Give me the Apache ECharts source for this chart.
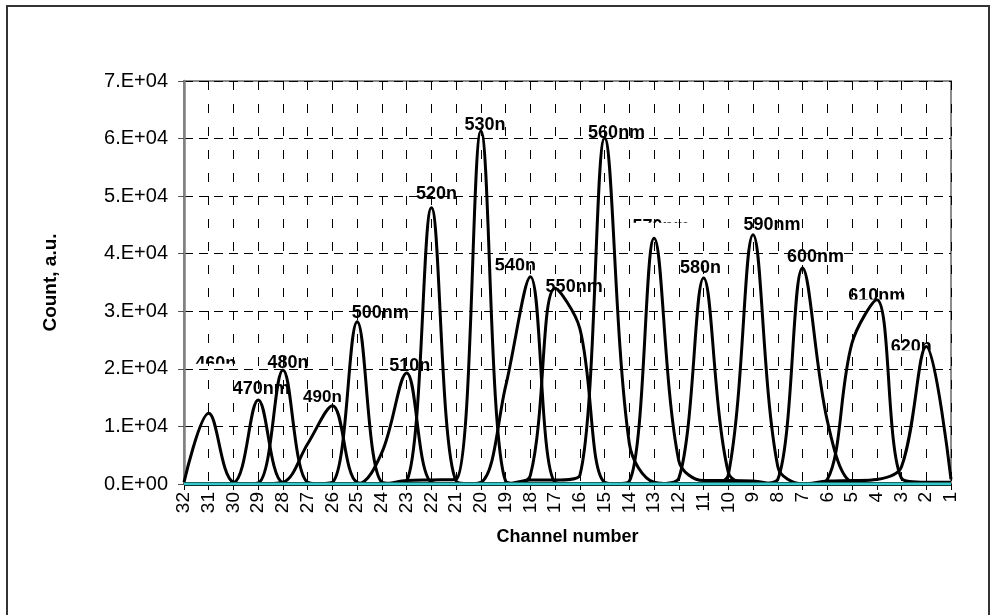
<!DOCTYPE html>
<html>
<head>
<meta charset="utf-8">
<script src="https://cdn.jsdelivr.net/npm/echarts@6/dist/echarts.min.js"></script>
<style>
  html, body { margin: 0; padding: 0; background: #fff; }
  #chart { width: 995px; height: 615px; }
  #frame { position: absolute; left: 6px; top: 5px; width: 984px; height: 640px;
           border: 2px solid #333; box-sizing: border-box; pointer-events: none; }
</style>
</head>
<body>
<div id="chart"></div>
<div id="frame"></div>
<script>
// Detector channels, left to right
const channels = [32, 31, 30, 29, 28, 27, 26, 25, 24, 23, 22, 21, 20, 19, 18, 17,
                  16, 15, 14, 13, 12, 11, 10, 9, 8, 7, 6, 5, 4, 3, 2, 1];

// Counts per channel for each illumination wavelength (same channel order)
const s460 = [300, 12300, 300, 0, 0, 0, 0, 0,  0, 0, 0, 0, 0, 0, 0, 0,  0, 0, 0, 0, 0, 0, 0, 0,  0, 0, 0, 0, 0, 0, 0, 0];
const s470 = [0, 0, 200, 14600, 200, 0, 0, 0,  0, 0, 0, 0, 0, 0, 0, 0,  0, 0, 0, 0, 0, 0, 0, 0,  0, 0, 0, 0, 0, 0, 0, 0];
const s480 = [0, 0, 0, 200, 19800, 300, 0, 0,  0, 0, 0, 0, 0, 0, 0, 0,  0, 0, 0, 0, 0, 0, 0, 0,  0, 0, 0, 0, 0, 0, 0, 0];
const s490 = [0, 0, 0, 0, 300, 7000, 13600, 300,  0, 0, 0, 0, 0, 0, 0, 0,  0, 0, 0, 0, 0, 0, 0, 0,  0, 0, 0, 0, 0, 0, 0, 0];
const s500 = [0, 0, 0, 0, 0, 0, 300, 28200,  300, 0, 0, 0, 0, 0, 0, 0,  0, 0, 0, 0, 0, 0, 0, 0,  0, 0, 0, 0, 0, 0, 0, 0];
const s510 = [0, 0, 0, 0, 0, 0, 0, 0,  5500, 19300, 300, 0, 0, 0, 0, 0,  0, 0, 0, 0, 0, 0, 0, 0,  0, 0, 0, 0, 0, 0, 0, 0];
const s520 = [0, 0, 0, 0, 0, 0, 0, 0,  0, 500, 48000, 500, 0, 0, 0, 0,  0, 0, 0, 0, 0, 0, 0, 0,  0, 0, 0, 0, 0, 0, 0, 0];
const s530 = [0, 0, 0, 0, 0, 0, 0, 0,  0, 600, 700, 800, 61300, 500, 0, 0,  0, 0, 0, 0, 0, 0, 0, 0,  0, 0, 0, 0, 0, 0, 0, 0];
const s540 = [0, 0, 0, 0, 0, 0, 0, 0,  0, 0, 0, 0, 300, 17000, 36000, 300,  0, 0, 0, 0, 0, 0, 0, 0,  0, 0, 0, 0, 0, 0, 0, 0];
const s550 = [0, 0, 0, 0, 0, 0, 0, 0,  0, 0, 0, 0, 0, 0, 1500, 34000,  27000, 300, 0, 0, 0, 0, 0, 0,  0, 0, 0, 0, 0, 0, 0, 0];
const s560 = [0, 0, 0, 0, 0, 0, 0, 0,  0, 0, 0, 0, 0, 0, 700, 700,  1500, 60100, 7000, 300, 0, 0, 0, 0,  0, 0, 0, 0, 0, 0, 0, 0];
const s570 = [0, 0, 0, 0, 0, 0, 0, 0,  0, 0, 0, 0, 0, 0, 0, 0,  0, 0, 500, 42700, 4000, 600, 600, 500,  0, 0, 0, 0, 0, 0, 0, 0];
const s580 = [0, 0, 0, 0, 0, 0, 0, 0,  0, 0, 0, 0, 0, 0, 0, 0,  0, 0, 0, 0, 1000, 35800, 2000, 0,  0, 0, 0, 0, 0, 0, 0, 0];
const s590 = [0, 0, 0, 0, 0, 0, 0, 0,  0, 0, 0, 0, 0, 0, 0, 0,  0, 0, 0, 0, 0, 0, 1600, 43300,  3000, 0, 0, 0, 0, 0, 0, 0];
const s600 = [0, 0, 0, 0, 0, 0, 0, 0,  0, 0, 0, 0, 0, 0, 0, 0,  0, 0, 0, 0, 0, 0, 0, 0,  800, 37500, 11000, 300, 0, 0, 0, 0];
const s610 = [0, 0, 0, 0, 0, 0, 0, 0,  0, 0, 0, 0, 0, 0, 0, 0,  0, 0, 0, 0, 0, 0, 0, 0,  0, 0, 800, 24500, 32000, 1000, 300, 300];
const s620 = [0, 0, 0, 0, 0, 0, 0, 0,  0, 0, 0, 0, 0, 0, 0, 0,  0, 0, 0, 0, 0, 0, 0, 0,  0, 0, 500, 600, 800, 3000, 23900, 800];
const baseline = [0, 0, 0, 0, 0, 0, 0, 0,  0, 0, 0, 0, 0, 0, 0, 0,  0, 0, 0, 0, 0, 0, 0, 0,  0, 0, 0, 0, 0, 0, 0, 0];

const seriesNames = ['460nm', '470nm', '480nm', '490nm', '500nm', '510nm', '520nm', '530nm', '540nm',
                     '550nm', '560nm', '570nm', '580nm', '590nm', '600nm', '610nm', '620nm'];
const seriesValues = [s460, s470, s480, s490, s500, s510, s520, s530, s540,
                      s550, s560, s570, s580, s590, s600, s610, s620];

// Peak captions as printed next to each curve
const peakLabels = ['460n', '470nm', '480n', '490n', '500nm', '510n', '520n', '530n', '540n',
                    '550nm', '560nm', '570nm', '580n', '590nm', '600nm', '610nm', '620n'];

// Caption layout: offset of the text baseline centre from the peak (px), font size,
// and the share of the caption height left uncovered (from the top)
const labelDx    = [7, 3, 5, -10, 23, 3, 5, 4, -15, 19, 12, 7, -3, 19, 13, 0, -15];
const labelDy    = [-43, -5, -1, -2, -2, -1, -7, 0, -4, 5, 1, -5, -4, -3, -5, 3, 7];
const labelSize  = [18, 18, 18, 17, 18, 18, 18, 18, 18, 18, 18, 18, 18, 18, 18, 18, 18];
const labelShown = [0.5, 1, 1, 1, 1, 1, 1, 1, 0.8, 1, 1, 0.2, 1, 1, 1, 0.75, 0.75];

const FONT = '"Liberation Sans", Arial, Helvetica, sans-serif';

function sciLabel(v) {
  if (v === 0) return '0.E+00';
  const e = Math.floor(Math.log10(v) + 1e-9);
  const m = Math.round(v / Math.pow(10, e));
  return m + '.E+' + String(e).padStart(2, '0');
}

function toPoints(values) {
  return channels.map((c, i) => [c, values[i]]);
}

// Peak position of every curve, taken from its own values
const peaks = seriesValues.map(vals => {
  let k = 0;
  vals.forEach((v, i) => { if (v > vals[k]) k = i; });
  return [channels[k], vals[k]];
});

const lineSeries = seriesNames.map((name, i) => ({
  name: name,
  type: 'line',
  data: toPoints(seriesValues[i]),
  smooth: 0.35,
  symbol: 'none',
  z: 2,
  lineStyle: { color: '#000', width: 3 },
  silent: true
}));

const chart = echarts.init(document.getElementById('chart'), null, { renderer: 'canvas' });

chart.setOption({
  animation: false,
  backgroundColor: '#fff',
  grid: {
    left: 184, right: 44, top: 81, bottom: 131,
    show: true, borderColor: '#8c8c8c', borderWidth: 2, backgroundColor: 'transparent'
  },
  xAxis: {
    type: 'value',
    inverse: true,
    min: 1, max: 32, interval: 1,
    name: 'Channel number',
    nameLocation: 'middle',
    nameGap: 44,
    nameTextStyle: { fontFamily: FONT, fontWeight: 'bold', fontSize: 18, color: '#000' },
    axisLine: { show: true, onZero: false, lineStyle: { color: '#000', width: 1.5 } },
    axisTick: { show: true, length: 6, lineStyle: { color: '#000', width: 1 } },
    axisLabel: { rotate: 90, margin: 8, fontFamily: FONT, fontSize: 19, color: '#000',
                 showMinLabel: true, showMaxLabel: true },
    splitLine: { show: true, lineStyle: { type: [9, 14], color: '#000', width: 1 } }
  },
  yAxis: {
    type: 'value',
    min: 0, max: 70000, interval: 10000,
    name: 'Count, a.u.',
    nameLocation: 'middle',
    nameRotate: 90,
    nameGap: 124,
    nameTextStyle: { fontFamily: FONT, fontWeight: 'bold', fontSize: 19, color: '#000' },
    axisLine: { show: true, lineStyle: { color: '#808080', width: 2.5 } },
    axisTick: { show: true, length: 6, lineStyle: { color: '#555', width: 1 } },
    axisLabel: { formatter: sciLabel, margin: 16, fontFamily: FONT, fontSize: 20, color: '#000' },
    splitLine: { show: true, lineStyle: { type: [9, 6], color: '#000', width: 1 } }
  },
  series: lineSeries.concat([
    {
      name: 'baseline',
      type: 'line',
      data: toPoints(baseline),
      symbol: 'none',
      z: 3,
      lineStyle: { color: '#33CCCC', width: 3 },
      silent: true
    },
    {
      name: 'peak captions',
      type: 'custom',
      z: 5,
      clip: false,
      silent: true,
      data: peaks.map((p, i) => [p[0], p[1], i]),
      encode: { x: 0, y: 1 },
      renderItem: function (params, api) {
        const i = api.value(2);
        const pt = api.coord([api.value(0), api.value(1)]);
        const fs = labelSize[i];
        const cap = 0.716 * fs;
        const h = labelShown[i] >= 1 ? fs + 14 : fs + 8 - cap * (1 - labelShown[i]);
        return {
          type: 'text',
          x: pt[0] + labelDx[i],
          y: pt[1] + labelDy[i],
          style: {
            x: 0, y: -0.35 * fs,
            text: peakLabels[i],
            fill: '#000',
            font: 'bold ' + fs + 'px ' + FONT,
            align: 'center',
            verticalAlign: 'middle'
          },
          clipPath: { type: 'rect', shape: { x: -70, y: -fs - 8, width: 140, height: h } }
        };
      }
    }
  ])
});
</script>
</body>
</html>
